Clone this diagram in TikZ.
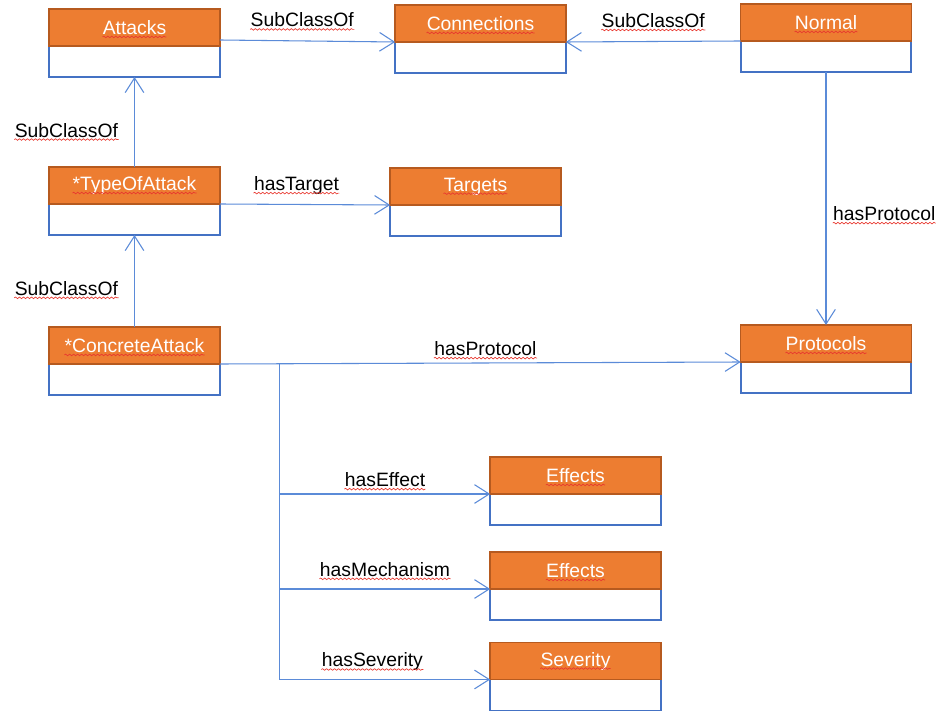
\documentclass[tikz,border=0pt]{standalone}
\usepackage{fontspec}
\setmainfont{Liberation Sans}
\usetikzlibrary{positioning,arrows.meta,decorations.pathmorphing}
\definecolor{clsfill}{HTML}{ED7D31}
\definecolor{clsline}{HTML}{B65A1F}
\definecolor{boxblue}{HTML}{4472C4}
\definecolor{linkblue}{HTML}{5B8BD8}
\definecolor{spellred}{HTML}{E8382F}
\tikzset{
    cls/.style={draw=clsline, fill=clsfill, line width=1.1pt, outer sep=0pt,
        minimum width=128pt, minimum height=27.75pt},
    body/.style={draw=boxblue, fill=white, line width=1.3pt, outer sep=0pt,
        minimum width=128pt, minimum height=23.25pt},
    lbl/.style={inner sep=0pt},
    spell/.style={draw=spellred, line width=0.5pt, decorate,
        decoration={snake, amplitude=0.6pt, segment length=3pt}},
    link/.style={draw=linkblue, line width=0.8pt, -{Straight Barb[length=11pt,width=14pt]}},
}

\begin{document}
\begin{tikzpicture}[x=0.75pt, y=-0.75pt, font=\fontsize{14.5}{17}\selectfont]
    \useasboundingbox (0,0) rectangle (937,712);
    \foreach \n/\x/\y/\t in {attacks/134.5/61.5/Attacks, connections/480.5/57.5/Connections,
        normal/826/56.5/Normal, type/134.5/219.5/*TypeOfAttack, targets/475.5/220.5/Targets,
        concrete/134.5/379.5/*ConcreteAttack, protocols/826/377.5/Protocols,
        effects/575.5/509.5/Effects, mechanism/575.5/604.5/Effects, severity/575.5/695/Severity}{
        \node[body] (\n-b) at (\x,\y) {};
        \node[cls, above=0pt of \n-b] (\n) {};
        \node[lbl, text=white] (\n-t) at (\n) {\t};
    }
    \draw[link] ([yshift=4.5pt]attacks.south east) -- (connections.south west)
        node[lbl, pos=0.47, above=10pt] (sub1) {SubClassOf};
    \draw[link] (normal.south west) -- (connections.south east)
        node[lbl, midway, above=10pt] (sub2) {SubClassOf};
    \draw[link] (type.north) -- (attacks-b.south) node[lbl, pos=0.41, left=12pt] (sub3) {SubClassOf};
    \draw[link] (concrete.north) -- (type-b.south) node[lbl, pos=0.42, left=12pt] (sub4) {SubClassOf};
    \draw[link] (type.south east) -- (targets.south west)
        node[lbl, pos=0.45, above=7pt] (target-l) {hasTarget};
    \draw[link] (normal-b.south) -- (protocols.north)
        node[lbl, pos=0.56, right=5pt] (proto1) {hasProtocol};
    \draw[link] (concrete.south east) -- (protocols.south west)
        node[lbl, pos=0.51, above=5pt] (proto2) {hasProtocol};
    \coordinate (fork) at ([xshift=45pt]concrete.south east);
    \draw[link] (fork) |- (effects.south west) node[lbl, pos=0.75, above=5pt] (effect-l) {hasEffect};
    \draw[link] (fork) |- (mechanism.south west) node[lbl, pos=0.75, above=9pt] (mech-l) {hasMechanism};
    \draw[link] (fork) |- (severity.south west) node[lbl, pos=0.72, above=6pt] (sev-l) {hasSeverity};
    \foreach \w in {attacks-t, connections-t, normal-t, type-t, targets-t, concrete-t, protocols-t,
        effects-t, mechanism-t, severity-t, sub1, sub2, sub3, sub4, target-l, proto1, proto2,
        effect-l, mech-l, sev-l}
        \draw[spell] ([yshift=-1.9pt]\w.base west) -- ([yshift=-1.9pt]\w.base east);
\end{tikzpicture}
\end{document}
